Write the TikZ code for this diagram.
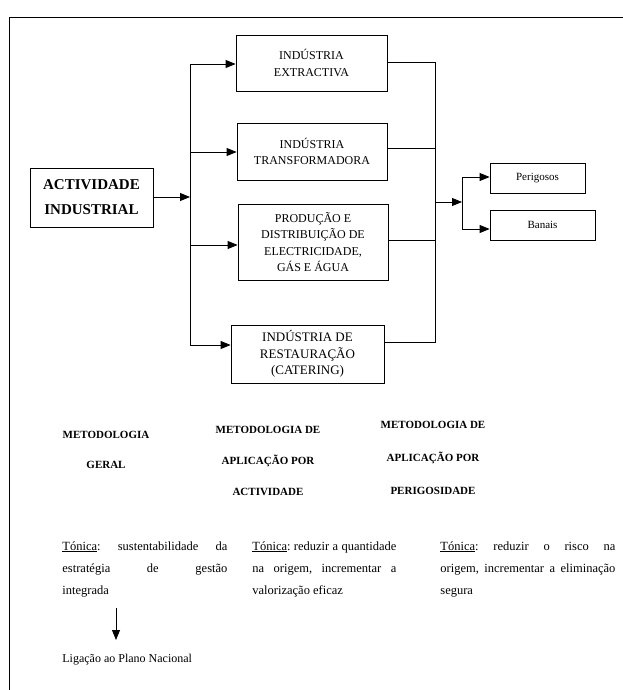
\documentclass[tikz,border=0pt]{standalone}
\usepackage{fontspec}
\setmainfont{Liberation Serif}
\usetikzlibrary{arrows.meta}
\newcommand{\nohy}{\frenchspacing\hyphenpenalty=10000\exhyphenpenalty=10000\relax}
\begin{document}
\begin{tikzpicture}[x=1pt,y=-1pt,
  line width=0.8pt,
  arr/.style={-{Triangle[length=10pt,width=8pt]}},
  box/.style={draw,inner sep=0pt,align=center},
  boxtxt/.style={font=\fontsize{12}{16.5}\selectfont},
  head/.style={align=center,font=\bfseries\fontsize{11}{31}\selectfont},
  para/.style={anchor=north west,inner sep=0pt,align=justify,
    font=\fontsize{12.5}{22}\selectfont}]
\useasboundingbox (0,0) rectangle (623,690);

% page frame (top and left edges)
\draw (9,690) -- (9,17) -- (623,17);

% source box
\node[box,minimum width=123pt,minimum height=59pt,
  font=\bfseries\fontsize{15}{25}\selectfont] (act) at (91.5,197.5)
  {ACTIVIDADE\\INDUSTRIAL};

% activity boxes
\node[box,boxtxt,minimum width=151pt,minimum height=56pt] (b1) at (311.5,63)
  {INDÚSTRIA\\EXTRACTIVA};
\node[box,boxtxt,minimum width=150pt,minimum height=57pt] (b2) at (312,151.5)
  {INDÚSTRIA\\TRANSFORMADORA};
\node[box,boxtxt,minimum width=150pt,minimum height=76pt] (b3) at (313,242)
  {PRODUÇÃO E\\DISTRIBUIÇÃO DE\\ELECTRICIDADE,\\GÁS E ÁGUA};
\node[box,font=\fontsize{13}{16.5}\selectfont,minimum width=153pt,minimum height=58pt] (b4) at (307.5,354)
  {INDÚSTRIA DE\\RESTAURAÇÃO\\(CATERING)};

% waste class boxes
\node[box,font=\fontsize{11}{12}\selectfont,minimum width=95pt,minimum height=30pt] (per) at (537.5,178) {Perigosos};
\node[box,font=\fontsize{11}{12}\selectfont,minimum width=105pt,minimum height=30pt] (ban) at (542.5,225) {Banais};

% distribution trunk
\coordinate (t0) at (190,197);
\coordinate (t1) at (190,64);
\coordinate (t2) at (190,152);
\coordinate (t3) at (190,245);
\coordinate (t4) at (190,345);
\draw[arr] (act.east |- t0) -- (t0);
\draw (t1) -- (t4);
\draw[arr] (t1) -- (b1.west |- t1);
\draw[arr] (t2) -- (b2.west |- t2);
\draw[arr] (t3) -- (b3.west |- t3);
\draw[arr] (t4) -- (b4.west |- t4);

% collector
\coordinate (c1) at (435,62);
\coordinate (c2) at (435,148);
\coordinate (c3) at (435,240);
\coordinate (c4) at (435,342);
\coordinate (cm) at (435,202);
\draw (b1.east |- c1) -- (c1) -- (c4) -- (b4.east |- c4);
\draw (b2.east |- c2) -- (c2);
\draw (b3.east |- c3) -- (c3);

% split to waste classes
\coordinate (s0) at (462,202);
\coordinate (s1) at (462,177);
\coordinate (s2) at (462,229);
\draw[arr] (cm) -- (s0);
\draw (s1) -- (s2);
\draw[arr] (s1) -- (per.west |- s1);
\draw[arr] (s2) -- (ban.west |- s2);

% methodology headings
\node[head,font=\bfseries\fontsize{11}{30}\selectfont] (h1) at (106,450) {METODOLOGIA\\GERAL};
\node[head] (h2) at (268,461) {METODOLOGIA DE\\APLICAÇÃO POR\\ACTIVIDADE};
\node[head,font=\bfseries\fontsize{11}{33}\selectfont] (h3) at (433,458) {METODOLOGIA DE\\APLICAÇÃO POR\\PERIGOSIDADE};

% keynotes
\node[para,text width=165pt] (p1) at (62,541)
  {\nohy\underline{Tónica}: sustentabilidade da\linebreak estratégia de gestão\linebreak integrada};
\node[para,text width=144pt] (p2) at (252,541)
  {\nohy\underline{Tónica}: reduzir a quantidade\linebreak na origem, incrementar a\linebreak valorização eficaz};
\node[para,text width=175pt] (p3) at (440,541)
  {\nohy\underline{Tónica}: reduzir o risco na\linebreak origem, incrementar a eliminação\linebreak segura};

% link to national plan
\node[anchor=west,inner sep=0pt,font=\fontsize{12}{14}\selectfont] (lig) at (62,660) {Ligação ao Plano Nacional};
\coordinate (a0) at (116,608);
\draw[arr] (a0) -- (116,640);
\end{tikzpicture}
\end{document}
